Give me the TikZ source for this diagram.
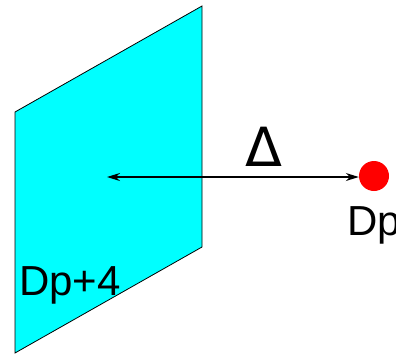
\documentclass[tikz,border=0pt]{standalone}
\usepackage{fontspec}
\setmainfont{Liberation Sans}
\newfontfamily\deltafont{DejaVu Sans}
\usetikzlibrary{arrows.meta}
\definecolor{plane}{RGB}{0,255,255}
\begin{document}
\begin{tikzpicture}[x=1pt,y=-1pt,
  lbl/.style={inner sep=0pt,font=\fontsize{42}{44}\selectfont},
  conn/.style={line width=1.3pt,{Stealth[length=13pt,width=8pt]}-{Stealth[length=13pt,width=8pt]}}]
\useasboundingbox (0,0) rectangle (396,354);
\path[fill=plane,draw=black,line width=0.8pt] (15,112) -- (202,6) -- (202,247) -- (15,353) -- cycle;
\node[circle,fill=red,inner sep=0pt,minimum size=30pt] (dot) at (374,176) {};
\coordinate (L) at (107,177);
\draw[conn] (L) -- (dot.west |- L);
\node[lbl,anchor=base,font=\deltafont\fontsize{54}{56}\selectfont] (delta) at (264,166) {Δ};
\node[lbl,anchor=base west] (dp) at (347,235) {Dp};
\node[lbl,anchor=base west] (dp4) at (19,295) {Dp+4};
\end{tikzpicture}
\end{document}
